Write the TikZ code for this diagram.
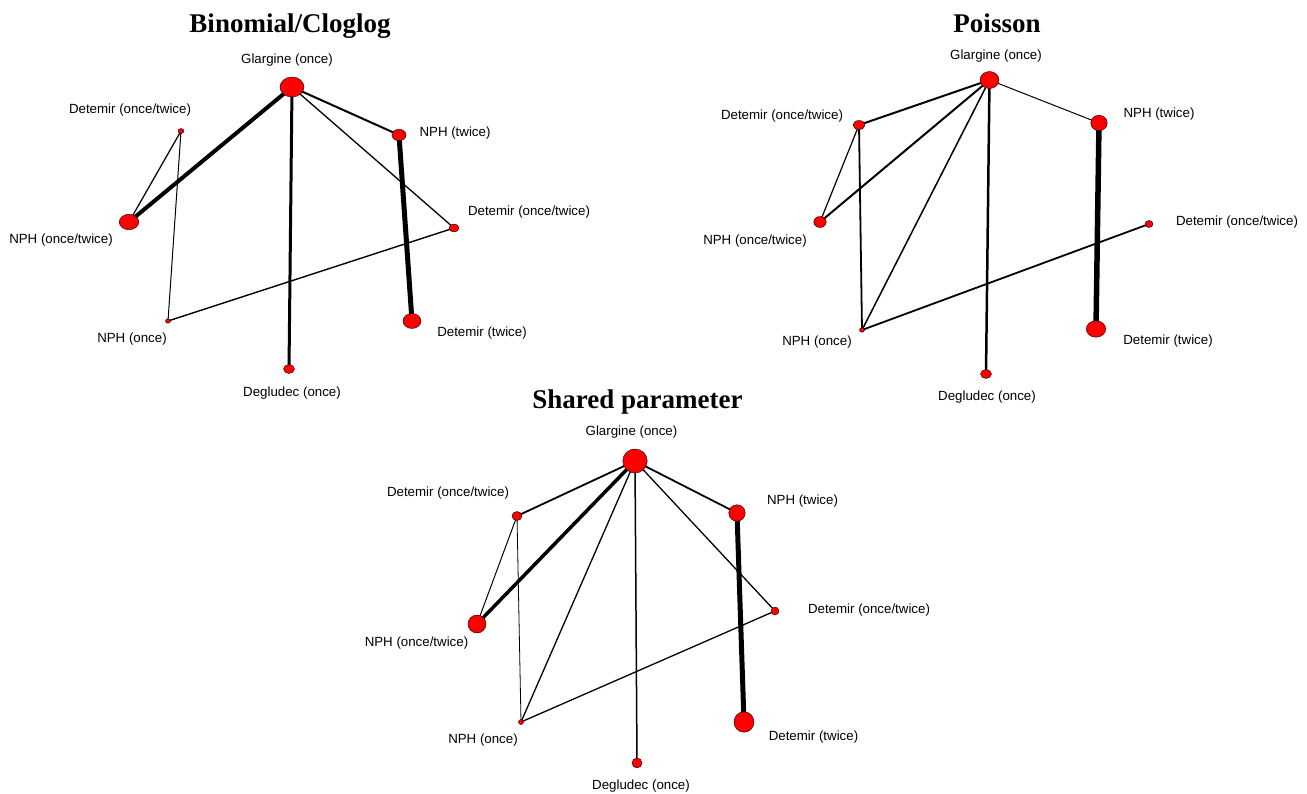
\documentclass[tikz,border=0pt]{standalone}
\usepackage{fontspec}
\setmainfont{Liberation Sans}
\newfontfamily\titlefont{Liberation Serif}
\usetikzlibrary{shapes.geometric,backgrounds}
\tikzset{
  drug/.style={ellipse, draw=black, line width=0.4pt, fill=red, inner sep=0pt},
  lbl/.style={font=\fontsize{13.3}{16}\selectfont, inner sep=0pt, text=black},
  ttl/.style={font=\titlefont\bfseries\fontsize{27}{30}\selectfont, inner sep=0pt, anchor=base},
  edge/.style={line width=#1, draw=black},
}
\begin{document}
\begin{tikzpicture}[x=1pt,y=-1pt]
\useasboundingbox (0,0) rectangle (1307,794);
\begin{scope}[on background layer]
\fill[white] (0,0) rectangle (1307,794);
\end{scope}

% ---------- Panel 1: Binomial/Cloglog ----------
\node[ttl] (t1) at (290,33) {Binomial/Cloglog};
\node[drug, minimum width=24, minimum height=20] (g1) at (292,87) {};
\node[drug, minimum width=6, minimum height=5] (dl1) at (181,131) {};
\node[drug, minimum width=14, minimum height=11.5] (nt1) at (399,135) {};
\node[drug, minimum width=19.5, minimum height=15.5] (no1) at (129,222) {};
\node[drug, minimum width=10, minimum height=8] (dr1) at (454,228) {};
\node[drug, minimum width=5, minimum height=4.5] (n1) at (168,321) {};
\node[drug, minimum width=18, minimum height=15] (dt1) at (412,321) {};
\node[drug, minimum width=11, minimum height=9] (dg1) at (289,369) {};
\node[lbl] (lg1) at (287,60) {Glargine (once)};
\node[lbl] (ldl1) at (130,110) {Detemir (once/twice)};
\node[lbl] (lnt1) at (455,133) {NPH (twice)};
\node[lbl] (lno1) at (61,240) {NPH (once/twice)};
\node[lbl] (ldr1) at (529,212) {Detemir (once/twice)};
\node[lbl] (ln1) at (132,339) {NPH (once)};
\node[lbl] (ldt1) at (482,333) {Detemir (twice)};
\node[lbl] (ldg1) at (292,393) {Degludec (once)};
\begin{scope}[on background layer]
\draw[edge=4] (g1.center) -- (no1.center);
\draw[edge=3] (g1.center) -- (dg1.center);
\draw[edge=2] (g1.center) -- (nt1.center);
\draw[edge=1.3] (g1.center) -- (dr1.center);
\draw[edge=5] (nt1.center) -- (dt1.center);
\draw[edge=1.3] (dl1.center) -- (no1.center);
\draw[edge=1] (dl1.center) -- (n1.center);
\draw[edge=1.4] (n1.center) -- (dr1.center);
\end{scope}

% ---------- Panel 2: Poisson ----------
\node[ttl] (t2) at (997,33) {Poisson};
\node[drug, minimum width=19, minimum height=17] (g2) at (989.5,80) {};
\node[drug, minimum width=12, minimum height=9] (dl2) at (859,125) {};
\node[drug, minimum width=16.5, minimum height=15.5] (nt2) at (1099,123) {};
\node[drug, minimum width=12.5, minimum height=11] (no2) at (820,222) {};
\node[drug, minimum width=8, minimum height=7] (dr2) at (1149,224) {};
\node[drug, minimum width=5, minimum height=4.5] (n2) at (862,330) {};
\node[drug, minimum width=19.5, minimum height=16.5] (dt2) at (1096,329) {};
\node[drug, minimum width=11, minimum height=9] (dg2) at (986,374) {};
\node[lbl] (lg2) at (996,56) {Glargine (once)};
\node[lbl] (ldl2) at (782,116) {Detemir (once/twice)};
\node[lbl] (lnt2) at (1159,114) {NPH (twice)};
\node[lbl] (lno2) at (755,241) {NPH (once/twice)};
\node[lbl] (ldr2) at (1237,222) {Detemir (once/twice)};
\node[lbl] (ln2) at (817,342) {NPH (once)};
\node[lbl] (ldt2) at (1168,341) {Detemir (twice)};
\node[lbl] (ldg2) at (987,397) {Degludec (once)};
\begin{scope}[on background layer]
\draw[edge=2] (g2.center) -- (dl2.center);
\draw[edge=2] (g2.center) -- (no2.center);
\draw[edge=1.5] (g2.center) -- (n2.center);
\draw[edge=2.5] (g2.center) -- (dg2.center);
\draw[edge=1] (g2.center) -- (nt2.center);
\draw[edge=5.5] (nt2.center) -- (dt2.center);
\draw[edge=1.2] (dl2.center) -- (no2.center);
\draw[edge=1.8] (dl2.center) -- (n2.center);
\draw[edge=1.8] (n2.center) -- (dr2.center);
\end{scope}

% ---------- Panel 3: Shared parameter ----------
\node[ttl] (t3) at (637.5,408) {Shared parameter};
\node[drug, minimum width=24.5, minimum height=24] (g3) at (635,461) {};
\node[drug, minimum width=10, minimum height=9] (dl3) at (517,516) {};
\node[drug, minimum width=16.5, minimum height=16.5] (nt3) at (737,513) {};
\node[drug, minimum width=18, minimum height=18] (no3) at (477,624) {};
\node[drug, minimum width=8, minimum height=8] (dr3) at (775,611) {};
\node[drug, minimum width=5, minimum height=5] (n3) at (521,722) {};
\node[drug, minimum width=20, minimum height=20.5] (dt3) at (744,722) {};
\node[drug, minimum width=10, minimum height=10] (dg3) at (637,763) {};
\node[lbl] (lg3) at (631.5,432) {Glargine (once)};
\node[lbl] (ldl3) at (448,493) {Detemir (once/twice)};
\node[lbl] (lnt3) at (802.5,501) {NPH (twice)};
\node[lbl] (lno3) at (416.5,643) {NPH (once/twice)};
\node[lbl] (ldr3) at (869,610) {Detemir (once/twice)};
\node[lbl] (ln3) at (483,740) {NPH (once)};
\node[lbl] (ldt3) at (813.5,737) {Detemir (twice)};
\node[lbl] (ldg3) at (641,786) {Degludec (once)};
\begin{scope}[on background layer]
\draw[edge=1.8] (g3.center) -- (dl3.center);
\draw[edge=3.5] (g3.center) -- (no3.center);
\draw[edge=1.3] (g3.center) -- (n3.center);
\draw[edge=1.5] (g3.center) -- (dg3.center);
\draw[edge=1.8] (g3.center) -- (nt3.center);
\draw[edge=1.3] (g3.center) -- (dr3.center);
\draw[edge=5] (nt3.center) -- (dt3.center);
\draw[edge=1] (dl3.center) -- (no3.center);
\draw[edge=0.8] (dl3.center) -- (n3.center);
\draw[edge=1.3] (n3.center) -- (dr3.center);
\end{scope}
\end{tikzpicture}
\end{document}
